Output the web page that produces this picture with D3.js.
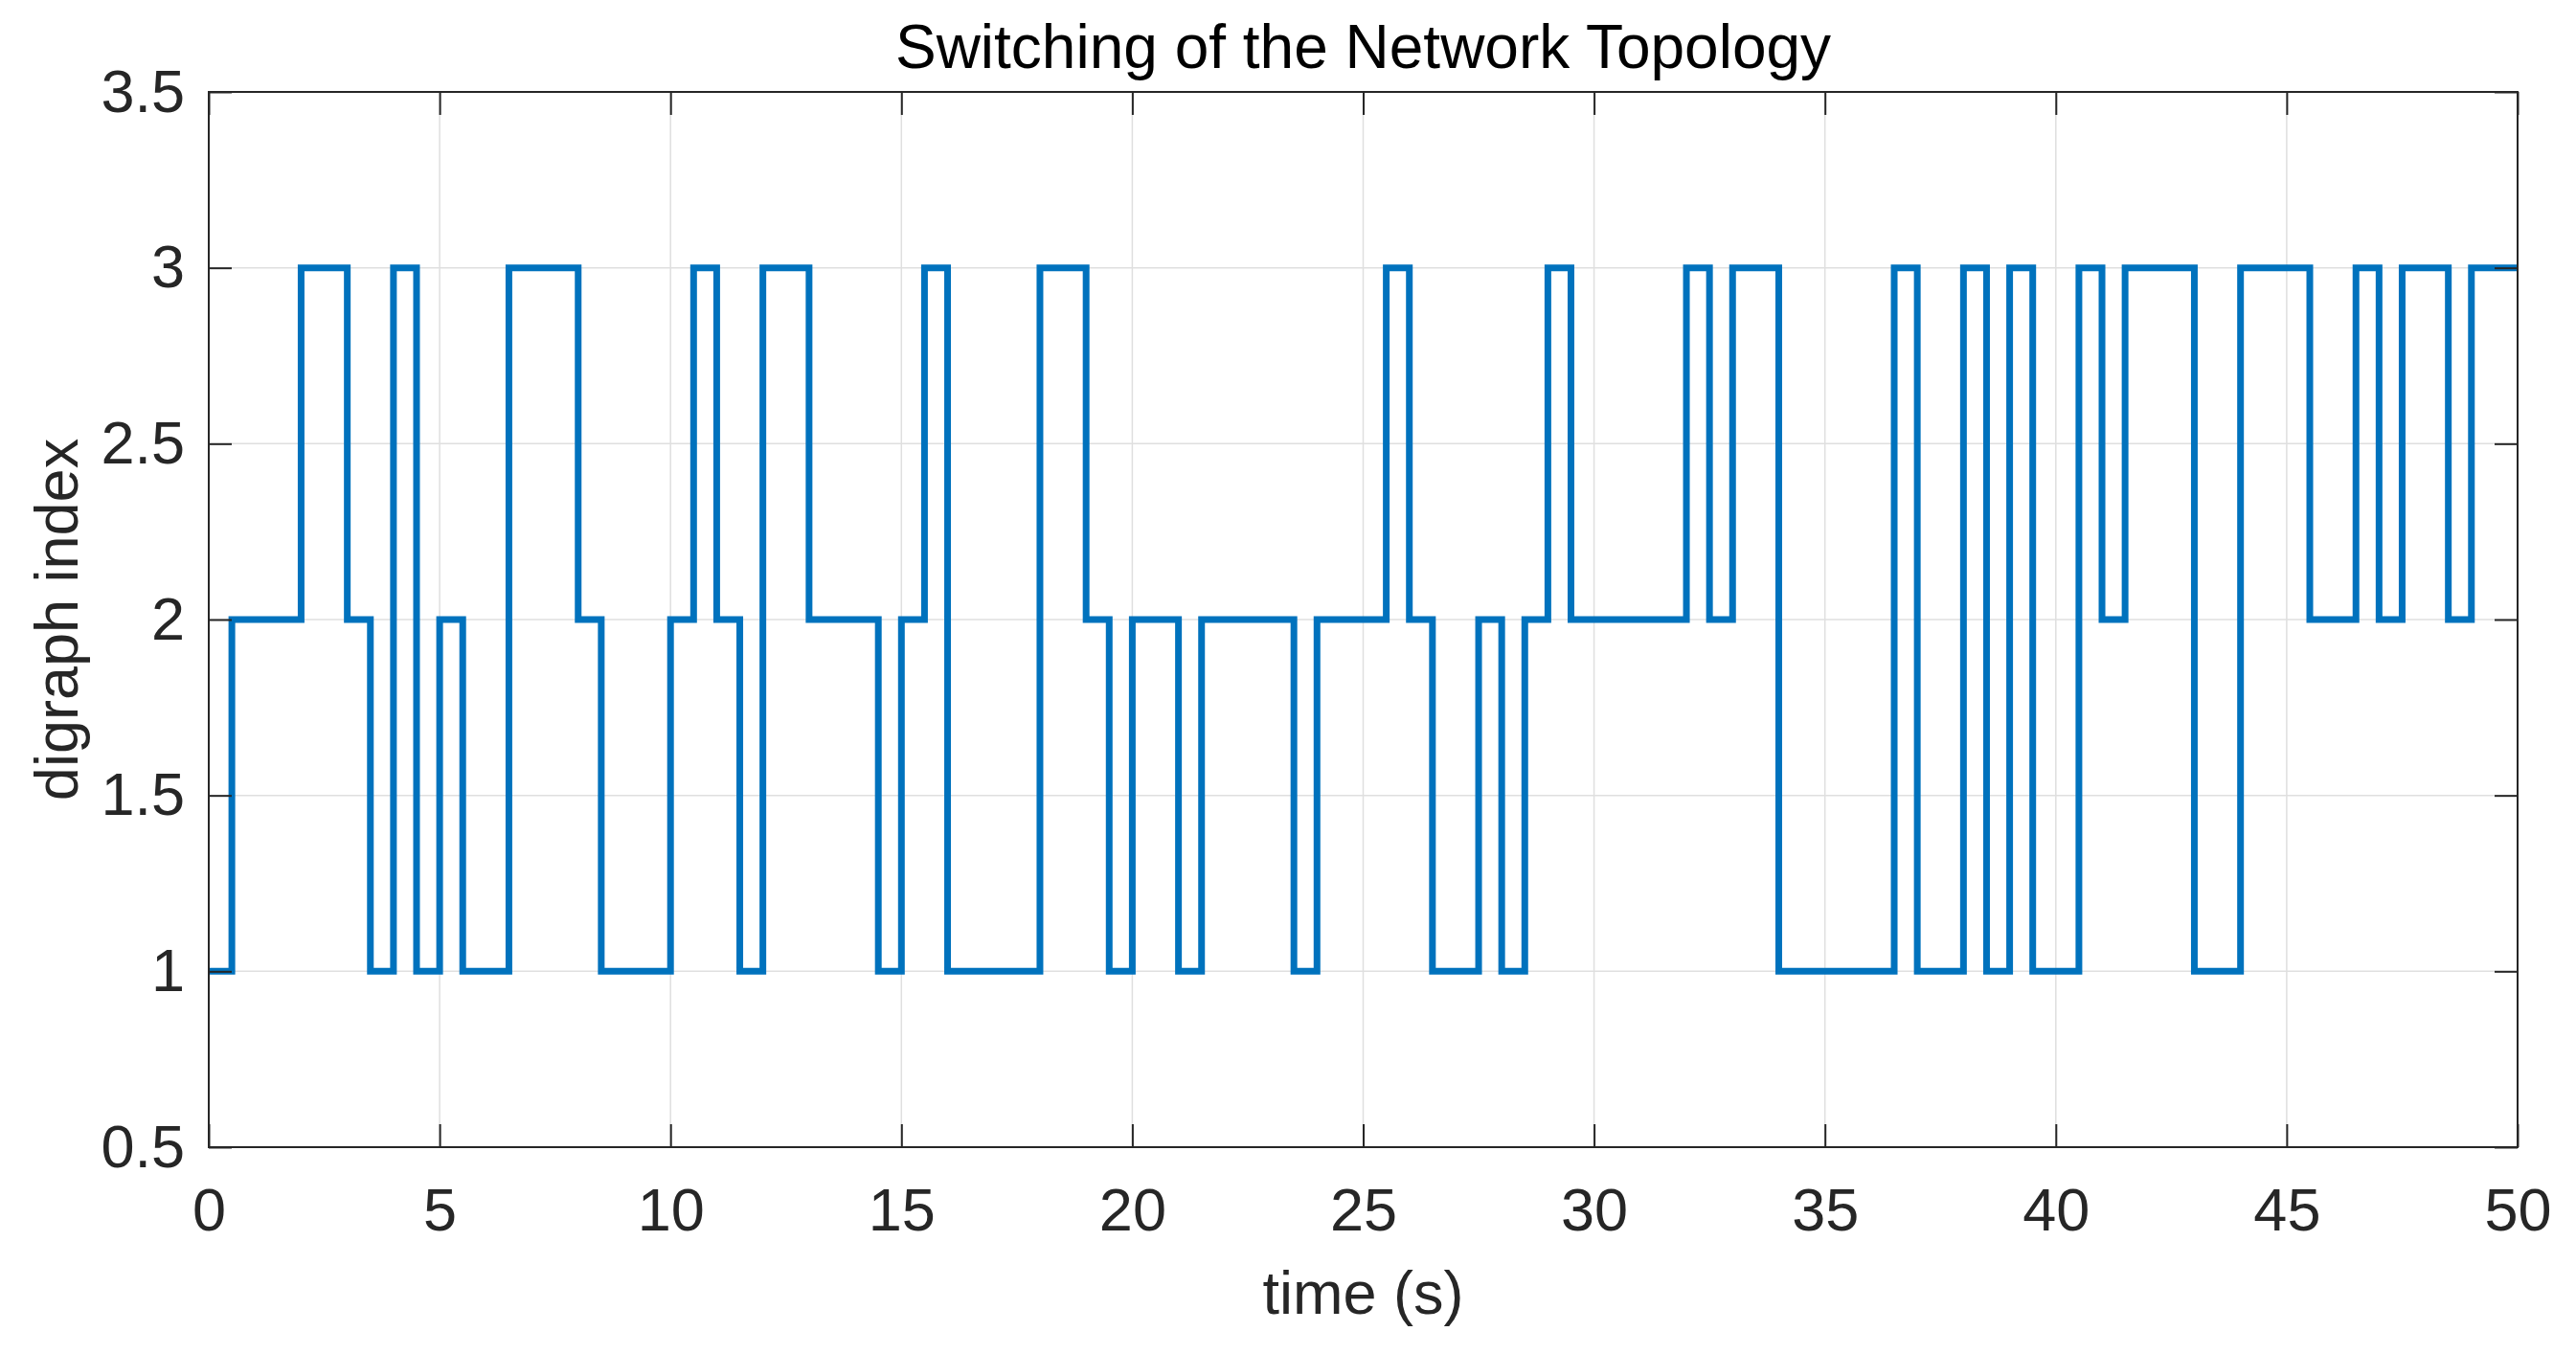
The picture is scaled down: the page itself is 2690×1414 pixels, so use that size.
<!DOCTYPE html>
<html>
<head>
<meta charset="utf-8">
<script src="https://cdn.jsdelivr.net/npm/d3@7"></script>
<style>
  html, body { margin: 0; padding: 0; background: #fff; }
  text { font-family: "Liberation Sans", Arial, Helvetica, sans-serif; fill: #262626; }
</style>
</head>
<body>
<svg id="chart"></svg>
<script>
// ---- //
// Data //
// ---- //

// times (s) at which the topology switches, and the digraph index held from then on
const switchTimes = [0, 0.5, 2, 3, 3.5, 4, 4.5, 5, 5.5, 6.5, 8, 8.5, 10, 10.5, 11, 11.5, 12, 13,
  14.5, 15, 15.5, 16, 18, 19, 19.5, 20, 21, 21.5, 23.5, 24, 25.5, 26, 26.5, 27.5, 28, 28.5,
  29, 29.5, 32, 32.5, 33, 34, 36.5, 37, 38, 38.5, 39, 39.5, 40.5, 41, 41.5, 43, 44, 45.5,
  46.5, 47, 47.5, 48.5, 49, 50];
const digraphIndex = [1, 2, 3, 2, 1, 3, 1, 2, 1, 3, 2, 1, 2, 3, 2, 1, 3, 2,
  1, 2, 3, 1, 3, 2, 1, 2, 1, 2, 1, 2, 3, 2, 1, 2, 1, 2,
  3, 2, 3, 2, 3, 1, 3, 1, 3, 1, 3, 1, 3, 2, 3, 1, 3, 2,
  3, 2, 3, 2, 3, 3];

const xTicks = [0, 5, 10, 15, 20, 25, 30, 35, 40, 45, 50];
const yTicks = [0.5, 1, 1.5, 2, 2.5, 3, 3.5];

const titleText = "Switching of the Network Topology";
const xLabel = "time (s)";
const yLabel = "digraph index";

// ------ //
// Layout //
// ------ //

const W = 2690, H = 1414;
const plot = { left: 218, right: 2629, top: 96, bottom: 1198 };
const fontSize = 63;
const tickLen = 24;

const x = d3.scaleLinear().domain([0, 50]).range([plot.left, plot.right]);
const y = d3.scaleLinear().domain([0.5, 3.5]).range([plot.bottom, plot.top]);

const svg = d3.select("#chart").attr("width", W).attr("height", H);

// grid
const grid = svg.append("g").attr("stroke", "#dfdfdf").attr("stroke-width", 1.5);
grid.selectAll("line.gx")
  .data(xTicks.slice(1, -1))
  .join("line")
  .attr("x1", d => x(d)).attr("x2", d => x(d))
  .attr("y1", plot.top).attr("y2", plot.bottom);
grid.selectAll("line.gy")
  .data(yTicks.slice(1, -1))
  .join("line")
  .attr("class", "gy")
  .attr("x1", plot.left).attr("x2", plot.right)
  .attr("y1", d => y(d)).attr("y2", d => y(d));

// the step signal
const line = d3.line()
  .x((d, i) => x(switchTimes[i]))
  .y(d => y(d))
  .curve(d3.curveStepAfter);

svg.append("path")
  .datum(digraphIndex)
  .attr("d", line)
  .attr("fill", "none")
  .attr("stroke", "#0072BD")
  .attr("stroke-width", 7)
  .attr("stroke-linejoin", "miter");

// axes: ticks inside, box all round
const axisColor = "#262626";
function styleAxis(g) {
  g.select(".domain").remove();
  g.selectAll(".tick line").attr("stroke", axisColor).attr("stroke-width", 2);
  g.selectAll(".tick text")
    .attr("font-size", fontSize)
    .attr("fill", axisColor)
    .style("font-family", '"Liberation Sans", Arial, Helvetica, sans-serif');
}

svg.append("g")
  .attr("transform", `translate(0,${plot.bottom})`)
  .call(d3.axisBottom(x).tickValues(xTicks).tickSize(-tickLen).tickPadding(42).tickFormat(d3.format("d")))
  .call(styleAxis);

svg.append("g")
  .attr("transform", `translate(0,${plot.top})`)
  .call(d3.axisTop(x).tickValues(xTicks).tickSize(-tickLen).tickFormat(""))
  .call(styleAxis);

svg.append("g")
  .attr("transform", `translate(${plot.left},0)`)
  .call(d3.axisLeft(y).tickValues(yTicks).tickSize(-tickLen).tickPadding(25).tickFormat(d => String(d)))
  .call(styleAxis);

svg.append("g")
  .attr("transform", `translate(${plot.right},0)`)
  .call(d3.axisRight(y).tickValues(yTicks).tickSize(-tickLen).tickFormat(""))
  .call(styleAxis);

svg.append("rect")
  .attr("x", plot.left).attr("y", plot.top)
  .attr("width", plot.right - plot.left).attr("height", plot.bottom - plot.top)
  .attr("fill", "none").attr("stroke", axisColor).attr("stroke-width", 2);

// labels
const cx = (plot.left + plot.right) / 2;
svg.append("text")
  .attr("x", cx).attr("y", 71)
  .attr("text-anchor", "middle")
  .attr("font-size", 64)
  .style("fill", "#000")
  .text(titleText);

svg.append("text")
  .attr("x", cx).attr("y", 1372)
  .attr("text-anchor", "middle")
  .attr("font-size", fontSize)
  .text(xLabel);

svg.append("text")
  .attr("transform", `translate(81,${(plot.top + plot.bottom) / 2}) rotate(-90)`)
  .attr("text-anchor", "middle")
  .attr("font-size", fontSize)
  .text(yLabel);
</script>
</body>
</html>
